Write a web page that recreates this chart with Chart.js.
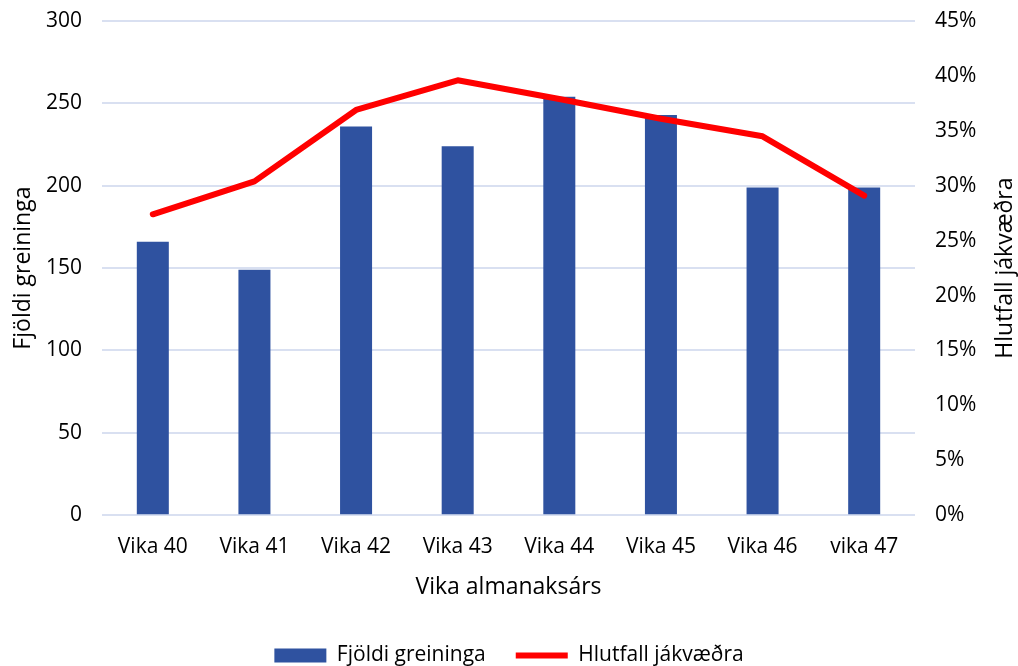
<!DOCTYPE html>
<html>
<head>
<meta charset="UTF-8">
<title>Fjöldi greininga</title>
<script src="https://cdn.jsdelivr.net/npm/chart.js@4.4.1/dist/chart.umd.min.js"></script>
<style>
  html, body { margin: 0; padding: 0; background: #fff; }
  #wrap { width: 1018px; height: 666px; }
</style>
</head>
<body>
<div id="wrap"><canvas id="myChart" width="1018" height="666"></canvas></div>
<script>
const weeks = ["Vika 40", "Vika 41", "Vika 42", "Vika 43", "Vika 44", "Vika 45", "Vika 46", "vika 47"];
const fjoldi = [166, 149, 236, 224, 254, 243, 199, 199];
const hlutfall = [27.4, 30.4, 36.9, 39.6, 37.9, 36.1, 34.5, 29.1];

const FONT = "'Open Sans', sans-serif";
const TXT = "#000000";
const GRID = "#d9e0f1";
const rightTitle = "Hlutfall jákvæðra";

// right axis title reads bottom-to-top, as on the left
const rightTitlePlugin = {
  id: "rightTitle",
  afterDraw(chart) {
    const ctx = chart.ctx;
    const ca = chart.chartArea;
    ctx.save();
    ctx.translate(1005, (ca.top + ca.bottom) / 2);
    ctx.rotate(-Math.PI / 2);
    ctx.font = "23px " + FONT;
    ctx.fillStyle = TXT;
    ctx.textAlign = "center";
    ctx.textBaseline = "middle";
    ctx.fillText(rightTitle, 0, 0);
    ctx.restore();
  }
};

new Chart("myChart", {
  data: {
    labels: weeks,
    datasets: [
      {
        type: "line",
        label: "Hlutfall jákvæðra",
        data: hlutfall,
        yAxisID: "y1",
        borderColor: "#ff0000",
        backgroundColor: "#ff0000",
        borderWidth: 6,
        borderCapStyle: "round",
        borderJoinStyle: "round",
        pointRadius: 0,
        tension: 0,
        order: 0,
        pointStyle: "line"
      },
      {
        type: "bar",
        label: "Fjöldi greininga",
        data: fjoldi,
        yAxisID: "y",
        backgroundColor: "#2f52a0",
        borderWidth: 0,
        barPercentage: 0.63,
        categoryPercentage: 0.5,
        order: 1,
        pointStyle: "rect"
      }
    ]
  },
  options: {
    responsive: false,
    animation: false,
    layout: { padding: { left: 0, right: 0, top: 21, bottom: -10 } },
    plugins: {
      legend: {
        position: "bottom",
        reverse: true,
        labels: {
          usePointStyle: true,
          pointStyleWidth: 52,
          boxHeight: 14,
          padding: 30,
          color: TXT,
          font: { family: FONT, size: 21 }
        }
      },
      tooltip: { enabled: false }
    },
    scales: {
      x: {
        grid: { display: false },
        border: { display: false },
        ticks: { color: TXT, font: { family: FONT, size: 21 }, padding: 11 },
        title: { display: true, text: "Vika almanaksárs", color: TXT, font: { family: FONT, size: 23 }, padding: { top: 3, bottom: 14 } }
      },
      y: {
        position: "left",
        min: 0, max: 300,
        afterFit(s) { s.width = 102; s.paddingTop = 0; s.paddingBottom = 0; },
        ticks: { stepSize: 50, color: TXT, font: { family: FONT, size: 21 }, padding: 20 },
        grid: { color: GRID, lineWidth: 2, drawTicks: false },
        border: { display: false },
        title: { display: true, text: "Fjöldi greininga", color: TXT, font: { family: FONT, size: 23 }, padding: 10 }
      },
      y1: {
        position: "right",
        min: 0, max: 45,
        afterFit(s) { s.width = 103; s.paddingTop = 0; s.paddingBottom = 0; },
        ticks: { stepSize: 5, color: TXT, font: { family: FONT, size: 21 }, padding: 20, callback: v => v + "%" },
        grid: { display: false, drawTicks: false },
        border: { display: false }
      }
    }
  },
  plugins: [rightTitlePlugin]
});
</script>
</body>
</html>
